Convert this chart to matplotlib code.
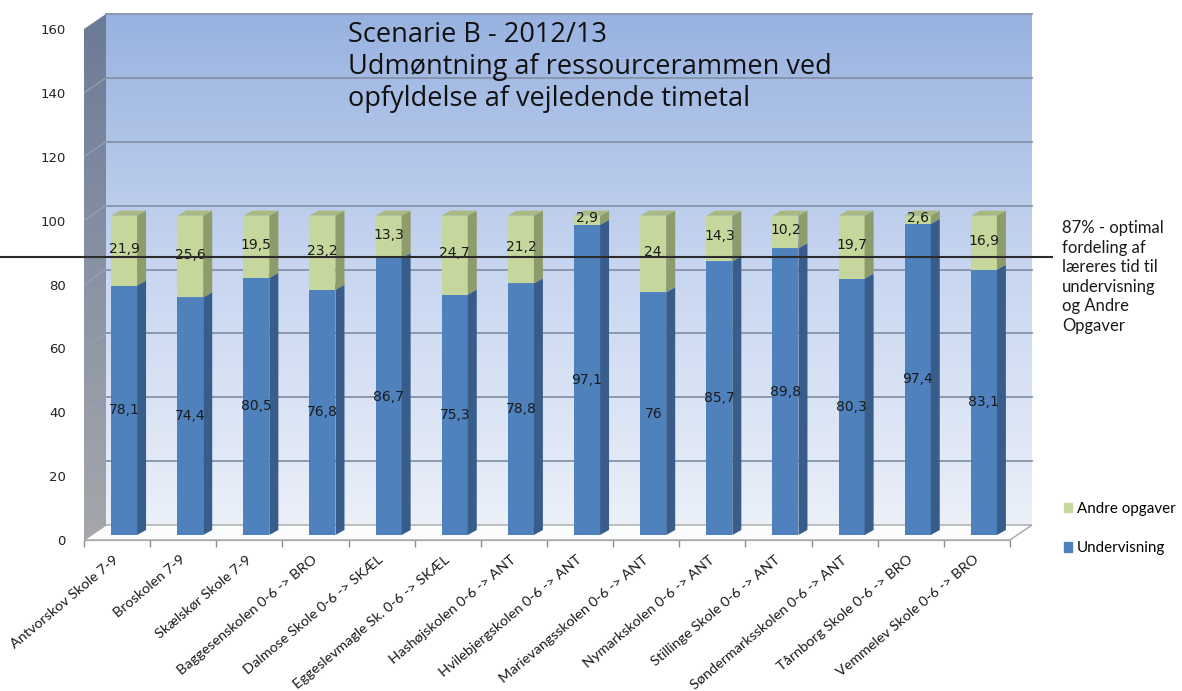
import numpy as np
import matplotlib
matplotlib.use("Agg")
import matplotlib.pyplot as plt
from matplotlib.patches import Polygon, Rectangle
from matplotlib.collections import PolyCollection
from matplotlib.colors import LinearSegmentedColormap

# ── Data ───────────────────────────────────────────────────────────────────────
schools = [
    "Antvorskov Skole 7-9", "Broskolen 7-9", "Skælskør Skole 7-9",
    "Baggesenskolen 0-6 -> BRO", "Dalmose Skole 0-6 -> SKÆL",
    "Eggeslevmagle Sk. 0-6 -> SKÆL", "Hashøjskolen 0-6 -> ANT",
    "Hvilebjergskolen 0-6 -> ANT", "Marievangsskolen 0-6 -> ANT",
    "Nymarkskolen 0-6 -> ANT", "Stillinge Skole 0-6 -> ANT",
    "Søndermarksskolen 0-6 -> ANT", "Tårnborg Skole 0-6 -> BRO",
    "Vemmelev Skole 0-6 -> BRO",
]
undervisning = [78.1, 74.4, 80.5, 76.8, 86.7, 75.3, 78.8, 97.1, 76, 85.7, 89.8, 80.3, 97.4, 83.1]
andre_opgaver = [21.9, 25.6, 19.5, 23.2, 13.3, 24.7, 21.2, 2.9, 24, 14.3, 10.2, 19.7, 2.6, 16.9]
y_ticks = [0, 20, 40, 60, 80, 100, 120, 140, 160]
optimal_share = 87

title = "Scenarie B - 2012/13\nUdmøntning af ressourcerammen ved\nopfyldelse af vejledende timetal"
note = "87% - optimal\nfordeling af\nlæreres tid til\nundervisning\nog Andre\nOpgaver"

# ── Layout (pixels of the 1182x691 picture) ───────────────────────────────────
W, H = 1182, 691
X0_PX, Y0_PX = 84, 540          # front-left corner of the floor
RIGHT_PX, TOP_PX = 1040, 10     # extent of the axes box
CAT_PX = 66.14                  # pixels per category
VAL_PX = 511 / 160              # pixels per value unit

def dx(p):
    return p / CAT_PX

def dy(p):
    return p / VAL_PX

WALL_DX, WALL_DY = dx(22), dy(15)   # depth of floor / back wall
BAR_DX, BAR_DY = dx(9), dy(5)       # depth of each bar
BAR_SHIFT, BAR_W = dx(7), dx(26)
BAR_BASE = dy(5)

BLUE, BLUE_SIDE, BLUE_TOP = "#4f81bd", "#385d8a", "#6d95c8"
GREEN, GREEN_SIDE, GREEN_TOP = "#c6d79d", "#8e9b6b", "#aab97f"

plt.rcParams["font.family"] = ["Lato", "DejaVu Sans"]

fig = plt.figure(figsize=(W / 100, H / 100), dpi=100)
ax = fig.add_axes([X0_PX / W, (H - Y0_PX) / H,
                   (RIGHT_PX - X0_PX) / W, (Y0_PX - TOP_PX) / H])
ax.set_xlim(-0.5, -0.5 + dx(RIGHT_PX - X0_PX))
ax.set_ylim(0, dy(Y0_PX - TOP_PX))
ax.patch.set_visible(False)

n = len(schools)
xl, xr = -0.5, n - 0.5
ymax = y_ticks[-1]

# ── Back wall with gradient ───────────────────────────────────────────────────
wall_cmap = LinearSegmentedColormap.from_list("wall", ["#ebf0f9", "#c8d6f0", "#98b2e0"])
ax.imshow(np.linspace(0, 1, 256)[:, None], cmap=wall_cmap, aspect="auto",
          origin="lower", extent=[xl + WALL_DX, xr + WALL_DX, WALL_DY, ymax + WALL_DY],
          zorder=0)
for v in y_ticks[1:]:
    ax.plot([xl + WALL_DX, xr + WALL_DX], [v + WALL_DY] * 2, color="#8592a8", lw=1.3, zorder=1)

# ── Left side wall ────────────────────────────────────────────────────────────
side_pts = [(xl, 0), (xl, ymax), (xl + WALL_DX, ymax + WALL_DY), (xl + WALL_DX, WALL_DY)]
side_cmap = LinearSegmentedColormap.from_list("side", ["#a5a7ab", "#8a93a5", "#6b7a96"])
side_img = ax.imshow(np.linspace(0, 1, 256)[:, None], cmap=side_cmap, aspect="auto",
                     origin="lower", extent=[xl, xl + WALL_DX, 0, ymax + WALL_DY], zorder=1)
side_poly = Polygon(side_pts, closed=True, fc="none", ec="none")
ax.add_patch(side_poly)
side_img.set_clip_path(side_poly)
for v in y_ticks[1:-1]:
    ax.plot([xl, xl + WALL_DX], [v, v + WALL_DY], color="#98a2b4", lw=0.8, zorder=2)

# ── Floor ─────────────────────────────────────────────────────────────────────
floor = Polygon([(xl, 0), (xr, 0), (xr + WALL_DX, WALL_DY), (xl + WALL_DX, WALL_DY)],
                closed=True, fc="#fbfcfe", ec="#a6a6a6", lw=1.0, zorder=2)
ax.add_patch(floor)

# ── Bars (front faces through ax.bar, depth faces from the same data) ─────────
x = np.arange(n) + BAR_SHIFT
blue = np.array(undervisning, dtype=float)
green = np.array(andre_opgaver, dtype=float)

def draw_segment(bottom, height, front, side, top):
    ax.bar(x, height, BAR_W, bottom=bottom, color=front, lw=0, zorder=3)
    right = x + BAR_W / 2
    left = x - BAR_W / 2
    upper = bottom + height
    sides = [[(r, b), (r, u), (r + BAR_DX, u + BAR_DY), (r + BAR_DX, b + BAR_DY)]
             for r, b, u in zip(right, bottom, upper)]
    tops = [[(l, u), (r, u), (r + BAR_DX, u + BAR_DY), (l + BAR_DX, u + BAR_DY)]
            for l, r, u in zip(left, right, upper)]
    ax.add_collection(PolyCollection(sides, facecolors=side, edgecolors="none", zorder=3))
    ax.add_collection(PolyCollection(tops, facecolors=top, edgecolors="none", zorder=3))

base = np.full(n, BAR_BASE)
draw_segment(base, blue, BLUE, BLUE_SIDE, BLUE_TOP)
draw_segment(base + blue, green, GREEN, GREEN_SIDE, GREEN_TOP)

def fmt(v):
    return f"{v:g}".replace(".", ",")

for xi, b, g in zip(x, blue, green):
    ax.text(xi, BAR_BASE + b / 2, fmt(b), ha="center", va="center",
            fontsize=10, family="DejaVu Sans", color="#1a1a1a", zorder=5)
    ax.text(xi, BAR_BASE + b + g / 2 + dy(2), fmt(g), ha="center", va="center",
            fontsize=10, family="DejaVu Sans", color="#1a1a1a", zorder=5)

# ── 87% reference line ────────────────────────────────────────────────────────
ax.plot([xl - dx(X0_PX), xl + dx(1052 - X0_PX)], [optimal_share + BAR_BASE] * 2,
        color="#2b2b2b", lw=1.5, zorder=6, clip_on=False)

# ── Axes, ticks ───────────────────────────────────────────────────────────────
for s in ["left", "right", "top"]:
    ax.spines[s].set_visible(False)
ax.spines["bottom"].set_bounds(xl, xr)
ax.spines["bottom"].set_color("#a6a6a6")
ax.spines["bottom"].set_zorder(2)

ax.set_yticks(y_ticks)
ax.set_yticklabels([str(v) for v in y_ticks], fontsize=9.5, family="DejaVu Sans", color="#222222")
ax.tick_params(axis="y", length=0, pad=13)

ax.set_xticks(np.arange(n))
ax.set_xticklabels(schools, rotation=40, ha="right", va="center",
                   rotation_mode="anchor", fontsize=10.4, color="#1a1a1a")
ax.tick_params(axis="x", which="major", length=0, pad=13)
ax.set_xticks(np.arange(-0.5, n, 1), minor=True)
ax.tick_params(axis="x", which="minor", length=5, color="#8c8c8c", width=1)

# ── Texts and legend ──────────────────────────────────────────────────────────
fig.text(348 / W, 1 - 21 / H, title, ha="left", va="top", fontsize=19.5,
         family=["Open Sans", "DejaVu Sans"], linespacing=1.2, color="#111111")
fig.text(1062 / W, 1 - 220 / H, note, ha="left", va="top", fontsize=12,
         linespacing=1.27, color="#1a1a1a")

handles = [Rectangle((0, 0), 1, 1, color=GREEN), Rectangle((0, 0), 1, 1, color=BLUE)]
fig.legend(handles, ["Andre opgaver", "Undervisning"], loc="upper left",
           bbox_to_anchor=(1050 / W, 1 - 488 / H), frameon=False, fontsize=10.9,
           handlelength=0.55, handleheight=0.55, handletextpad=0.35, labelspacing=1.7)

fig.savefig("out.png", dpi=100, facecolor="white")
